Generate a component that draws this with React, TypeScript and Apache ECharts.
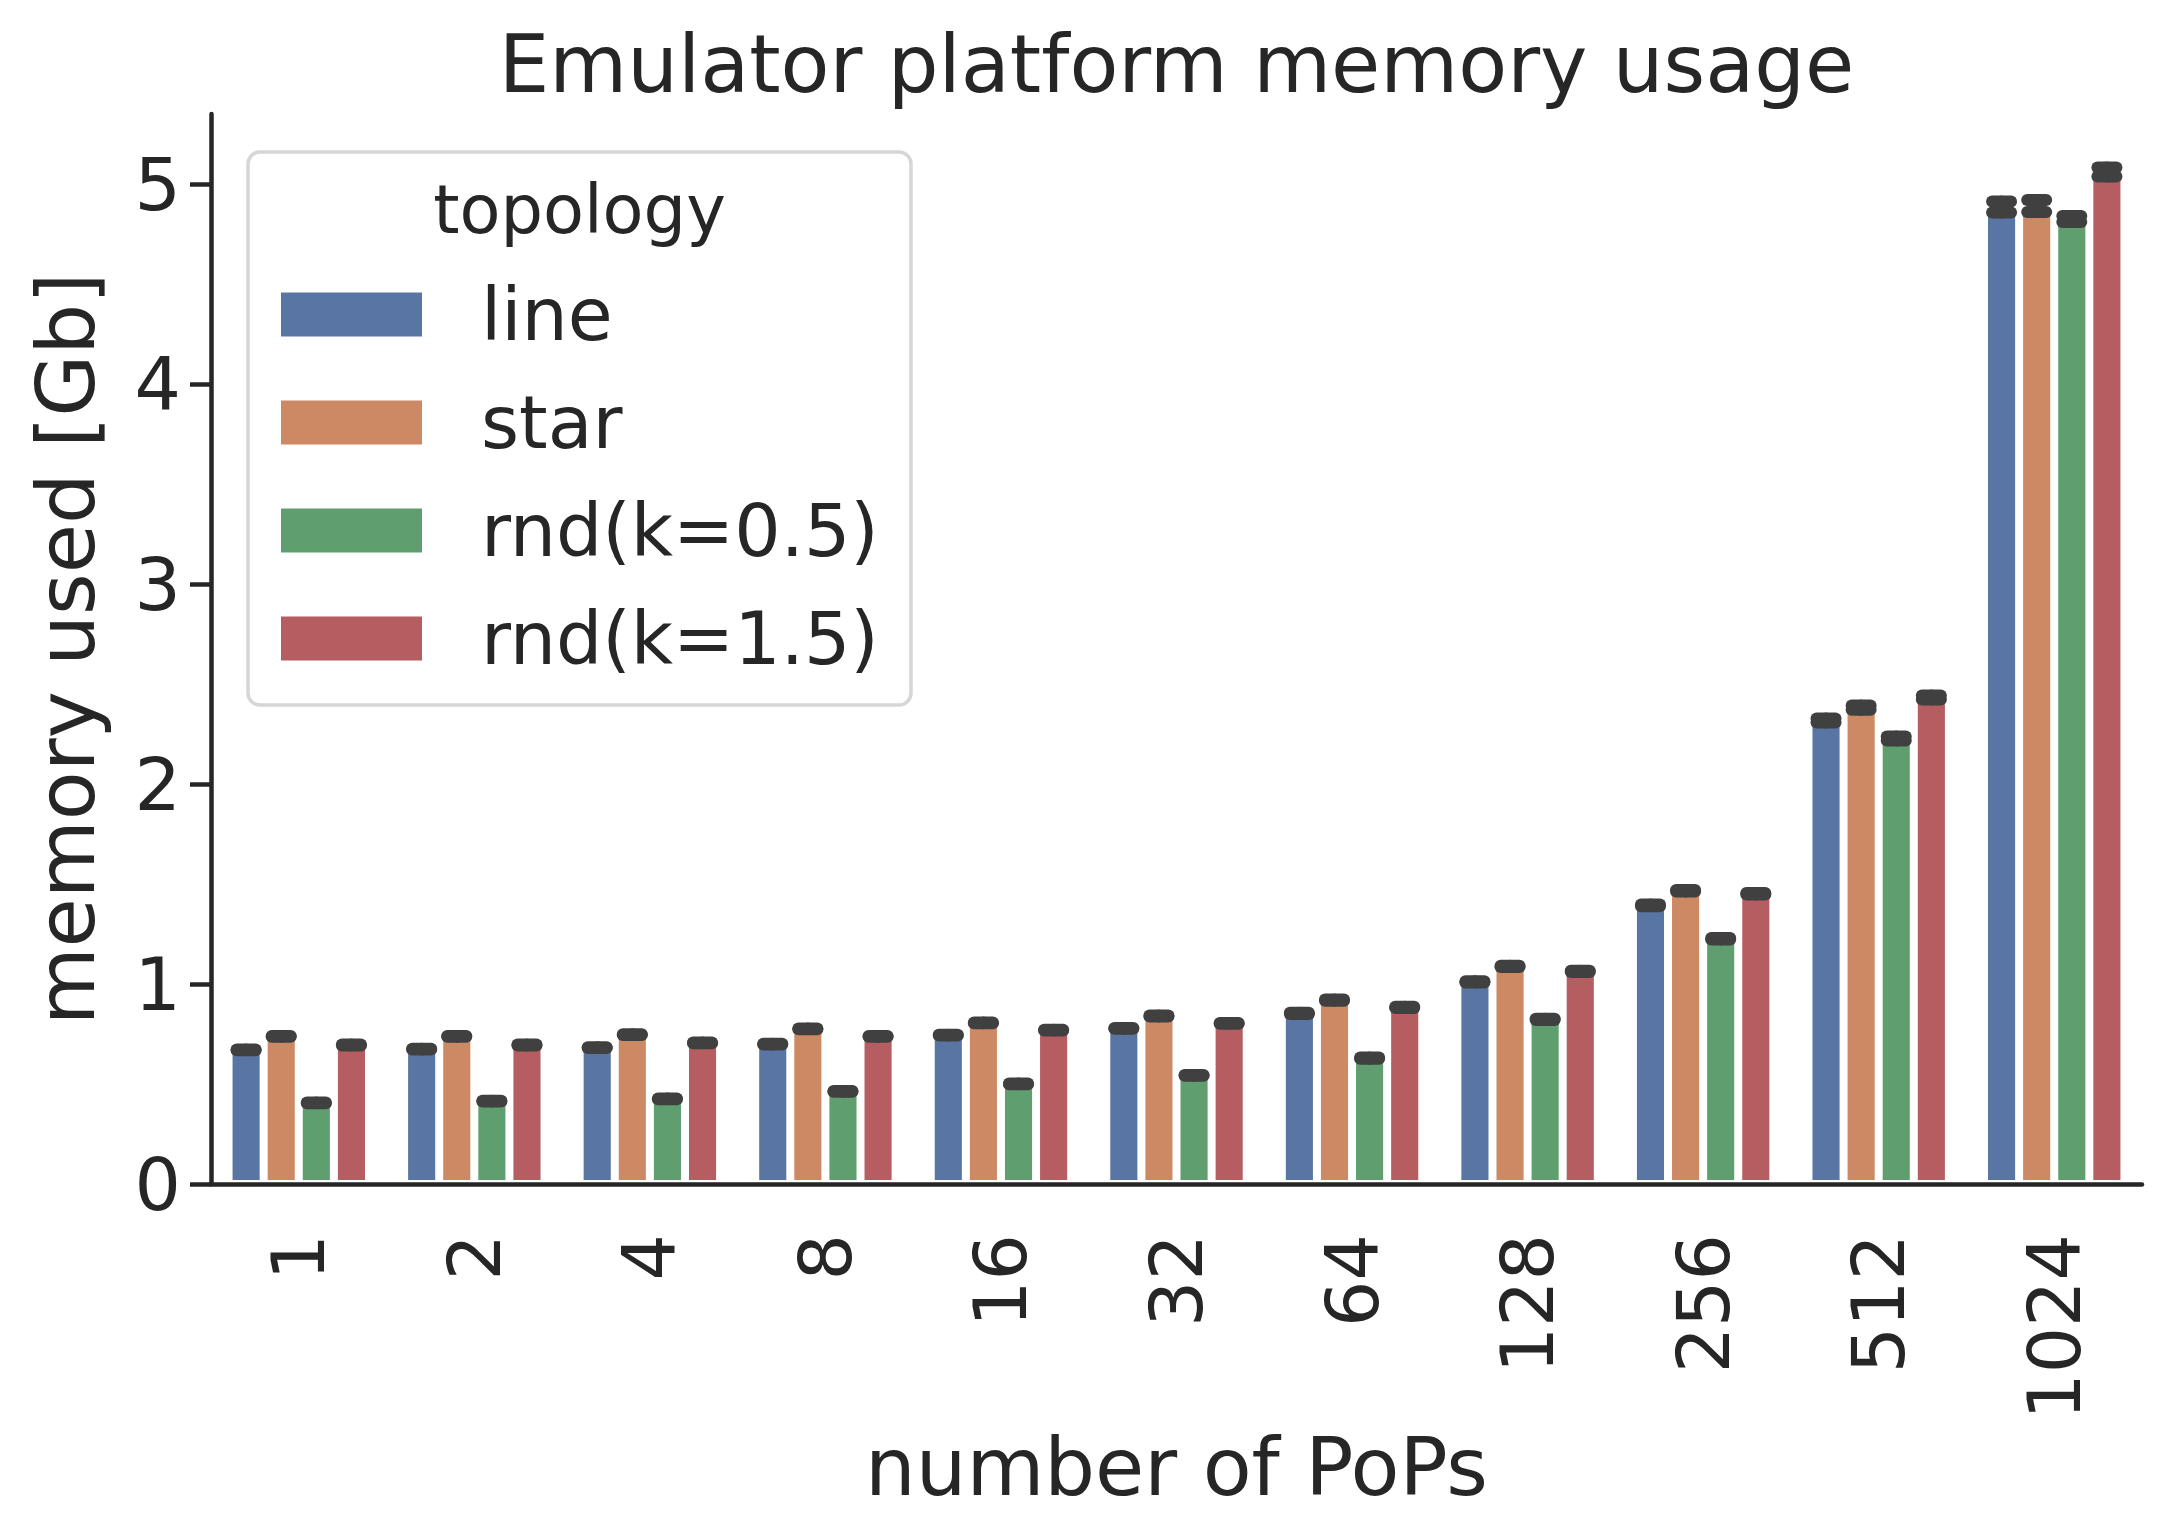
import React, { useEffect, useRef } from "react";
import * as echarts from "echarts";

const categories = ["1", "2", "4", "8", "16", "32", "64", "128", "256", "512", "1024"];
const seriesNames = ["line", "star", "rnd(k=0.5)", "rnd(k=1.5)"];
const seriesColors = ["#5875a4", "#cc8963", "#5f9e6e", "#b55d60"];

const lineMem = [0.671, 0.674, 0.682, 0.699, 0.744, 0.778, 0.853, 1.011, 1.393, 2.317, 4.885];
const starMem = [0.738, 0.738, 0.747, 0.776, 0.806, 0.84, 0.919, 1.088, 1.466, 2.382, 4.89];
const rnd05Mem = [0.406, 0.414, 0.426, 0.463, 0.501, 0.543, 0.629, 0.823, 1.226, 2.228, 4.825];
const rnd15Mem = [0.695, 0.695, 0.706, 0.738, 0.769, 0.803, 0.883, 1.063, 1.451, 2.433, 5.06];

const lineCi = [0.002, 0.002, 0.002, 0.002, 0.002, 0.002, 0.003, 0.003, 0.004, 0.01, 0.028];
const starCi = [0.002, 0.002, 0.002, 0.002, 0.002, 0.002, 0.003, 0.003, 0.004, 0.011, 0.03];
const rnd05Ci = [0.002, 0.002, 0.002, 0.002, 0.002, 0.002, 0.003, 0.003, 0.004, 0.01, 0.015];
const rnd15Ci = [0.002, 0.002, 0.002, 0.002, 0.002, 0.002, 0.003, 0.003, 0.004, 0.01, 0.023];

const yTicks = [0, 1, 2, 3, 4, 5];
const yMax = 5.35;

const means = [lineMem, starMem, rnd05Mem, rnd15Mem];
const cis = [lineCi, starCi, rnd05Ci, rnd15Ci];

const TEXT = "#262626";
const FONT = "DejaVu Sans";

export default function App() {
  const ref = useRef<HTMLDivElement>(null);
  useEffect(() => {
    if (!ref.current) return;
    const chart = echarts.init(ref.current, null, { renderer: "svg" });

    const barSeries = seriesNames.map((name, k) => ({
      name,
      type: "bar",
      data: means[k],
      barGap: "0%",
      barCategoryGap: "20%",
      itemStyle: { color: seriesColors[k], borderColor: "#ffffff", borderWidth: 4 },
      z: 2,
    }));

    const errSeries = seriesNames.map((name, k) => ({
      name: name + " ci",
      type: "custom",
      z: 5,
      encode: { x: 0, y: [1, 2] },
      data: means[k].map((m, i) => [i, m - cis[k][i], m + cis[k][i]]),
      renderItem: (params: any, api: any) => {
        const cat = api.value(0);
        const lo = api.value(1);
        const hi = api.value(2);
        const band = api.size([1, 0])[0];
        const barW = (band * 0.8) / 4;
        const pLo = api.coord([cat, lo]);
        const pHi = api.coord([cat, hi]);
        const x = pLo[0] + (k - 1.5) * barW;
        const capHalf = 9.5;
        const style = { stroke: "#404040", lineWidth: 12, lineCap: "round" };
        return {
          type: "group",
          children: [
            { type: "line", shape: { x1: x, y1: pLo[1], x2: x, y2: pHi[1] }, style },
            { type: "line", shape: { x1: x - capHalf, y1: pLo[1], x2: x + capHalf, y2: pLo[1] }, style },
            { type: "line", shape: { x1: x - capHalf, y1: pHi[1], x2: x + capHalf, y2: pHi[1] }, style },
          ],
        };
      },
    }));

    chart.setOption({
      animation: false,
      textStyle: { fontFamily: FONT, color: TEXT },
      title: {
        text: "Emulator platform memory usage",
        left: 1176.5,
        top: 24,
        padding: 0,
        textAlign: "center",
        textStyle: { fontFamily: FONT, fontSize: 80, fontWeight: "normal", color: TEXT, lineHeight: 80 },
      },
      grid: { left: 211, right: 35, top: 114, bottom: 351, containLabel: false },
      legend: {
        data: seriesNames,
        orient: "vertical",
        left: 279,
        top: 278,
        padding: 0,
        itemWidth: 143,
        itemHeight: 46,
        itemGap: 35,
        icon: "rect",
        textStyle: { fontFamily: FONT, fontSize: 73, color: TEXT, padding: [0, 0, 0, 53] },
        z: 10,
      },
      graphic: [
        {
          type: "rect",
          z: 1,
          shape: { x: 248, y: 152, width: 663, height: 553, r: 12 },
          style: { fill: "#ffffff", stroke: "#d6d6d6", lineWidth: 3.5 },
        },
        {
          type: "text",
          z: 11,
          x: 579.5,
          y: 210,
          style: {
            text: "topology",
            fontFamily: FONT,
            fontSize: 67,
            fill: TEXT,
            align: "center",
            verticalAlign: "middle",
          },
        },
      ],
      xAxis: {
        type: "category",
        data: categories,
        z: 10,
        name: "number of PoPs",
        nameLocation: "middle",
        nameGap: 237,
        nameTextStyle: { fontFamily: FONT, fontSize: 80, color: TEXT, lineHeight: 80 },
        axisLine: { lineStyle: { color: TEXT, width: 4.5 } },
        axisTick: { alignWithLabel: true, length: 21, lineStyle: { color: TEXT, width: 4.5 } },
        axisLabel: { rotate: 90, margin: 50, fontFamily: FONT, fontSize: 73, color: TEXT },
        splitLine: { show: false },
      },
      yAxis: {
        type: "value",
        min: 0,
        max: yMax,
        interval: 1,
        z: 10,
        name: "memory used [Gb]",
        nameLocation: "middle",
        nameGap: 105,
        nameTextStyle: { fontFamily: FONT, fontSize: 80, color: TEXT, lineHeight: 80 },
        axisLine: { show: true, lineStyle: { color: TEXT, width: 4.5 } },
        axisTick: { show: true, length: 21, customValues: yTicks, lineStyle: { color: TEXT, width: 4.5 } },
        axisLabel: { margin: 30, fontFamily: FONT, fontSize: 73, color: TEXT, customValues: yTicks },
        splitLine: { show: false },
      },
      series: [...barSeries, ...errSeries],
    });
    return () => chart.dispose();
  }, []);
  return (
    <div
      ref={ref}
      style={{ position: "fixed", left: 0, top: 0, width: 2177, height: 1535, background: "#ffffff" }}
    />
  );
}
